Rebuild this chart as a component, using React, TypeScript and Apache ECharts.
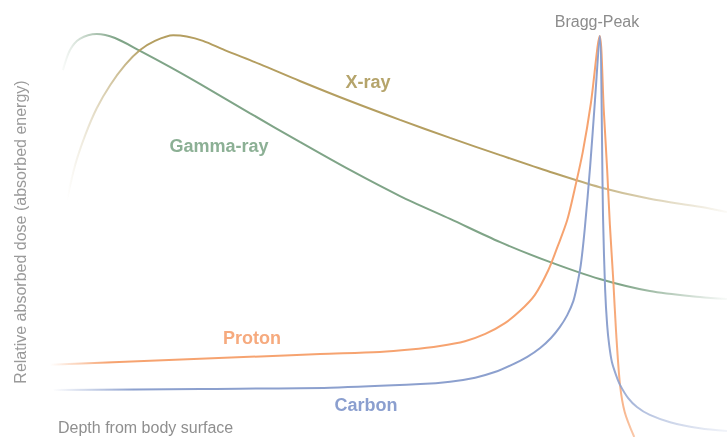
import React, { useEffect, useRef } from "react";
import * as echarts from "echarts";

// Depth (0-100, relative) and relative dose (0-105)
const gammaDepth = [1.9, 2.95, 4.4, 6.9, 9.6, 13.3, 17.7, 22.2, 29.5, 36.9, 44.3, 51.7, 59.1, 66.5, 73.9, 81.2, 88.6, 96.0, 100];
const gammaDose = [91.5, 96.5, 99.3, 100.5, 99.5, 96.3, 92.3, 88.0, 80.8, 73.6, 66.6, 60.1, 54.4, 48.6, 43.6, 39.4, 36.4, 34.9, 34.4];

const xrayDepth = [2.5, 3.7, 5.2, 6.9, 8.9, 11.1, 13.3, 15.5, 18.2, 20.2, 22.6, 25.8, 31.0, 36.9, 44.3, 51.7, 59.1, 66.5, 73.9, 81.2, 88.6, 96.0, 100];
const xrayDose = [59.1, 67.8, 75.3, 82.0, 87.8, 92.8, 96.5, 98.8, 100.2, 99.9, 98.8, 96.5, 93.0, 88.8, 83.8, 79.1, 74.6, 70.3, 66.1, 62.3, 59.4, 57.4, 56.1];

const protonDepth = [0, 14.8, 29.5, 39.9, 48.7, 53.2, 57.6, 61.3, 64.3, 67.2, 69.4, 71.6, 73.6, 75.0, 76.4, 77.5, 78.7, 79.9, 81.2, 81.8, 82.3, 82.7, 83.2, 83.6, 84.2, 84.9, 86.3];
const protonDose = [18.0, 19.0, 20.0, 20.7, 21.2, 21.8, 22.7, 23.9, 25.7, 28.4, 31.4, 35.4, 41.6, 47.6, 54.1, 61.8, 71.1, 83.3, 100, 81.5, 66.6, 52.9, 39.2, 26.7, 13.0, 6.2, 0];

const carbonDepth = [0.4, 22.2, 41.4, 54.7, 59.1, 62.8, 65.7, 68.2, 70.5, 72.4, 74.0, 75.3, 76.4, 77.3, 77.8, 78.4, 79.0, 79.8, 80.5, 81.2, 81.7, 82.0, 82.3, 82.6, 83.0, 83.6, 84.2, 85.4, 86.7, 88.6, 91.6, 96.0, 100];
const carbonDose = [11.7, 12.0, 12.3, 13.2, 13.8, 14.8, 16.2, 18.0, 20.0, 22.2, 24.7, 27.4, 30.4, 33.9, 37.4, 42.9, 52.1, 67.8, 84.0, 100, 54.1, 36.7, 27.9, 22.9, 18.7, 15.5, 13.0, 9.7, 7.5, 5.5, 3.7, 2.2, 1.5];

const seriesNames = ["Gamma-ray", "X-ray", "Proton", "Carbon"];
const peakLabel = "Bragg-Peak";
const xName = "Depth from body surface";
const yName = "Relative absorbed dose (absorbed energy)";

const FONT = "'Liberation Sans', Arial, Helvetica, sans-serif";

function pairs(xs: number[], ys: number[]) {
  return xs.map((x, i) => [x, ys[i]]);
}

function grad(rgb: string, stops: [number, number][]) {
  return new echarts.graphic.LinearGradient(
    0,
    0,
    1,
    0,
    stops.map(([o, a]) => ({ offset: o, color: `rgba(${rgb},${a})` }))
  );
}

export default function App() {
  const ref = useRef<HTMLDivElement>(null);
  useEffect(() => {
    if (!ref.current) return;
    const chart = echarts.init(ref.current, undefined, { renderer: "svg" });
    const green = "127,164,135";
    const tan = "180,158,96";
    const orange = "246,163,112";
    const blue = "140,160,206";
    const line = (name: string, data: number[][], color: any, z: number) => ({
      type: "line",
      name,
      data,
      smooth: 0.3,
      showSymbol: false,
      symbol: "none",
      z,
      lineStyle: { width: 2, color },
    });
    chart.setOption({
      animation: false,
      grid: { left: 50, right: 0, top: 16, bottom: 0 },
      xAxis: { type: "value", min: 0, max: 100, show: false },
      yAxis: { type: "value", min: 0, max: 105, show: false },
      series: [
        line(seriesNames[0], pairs(gammaDepth, gammaDose), grad(green, [[0, 0.05], [0.08, 1], [0.84, 1], [1, 0.05]]), 2),
        line(seriesNames[1], pairs(xrayDepth, xrayDose), grad(tan, [[0, 0], [0.12, 1], [0.74, 1], [1, 0.05]]), 3),
        line(seriesNames[2], pairs(protonDepth, protonDose), grad(orange, [[0, 0], [0.1, 1], [0.96, 1], [1, 0.6]]), 4),
        line(seriesNames[3], pairs(carbonDepth, carbonDose), grad(blue, [[0, 0], [0.12, 1], [0.82, 1], [0.9, 0.5], [1, 0.12]]), 5),
      ],
      graphic: [
        { type: "text", x: 368, y: 82, style: { text: seriesNames[1], fill: "rgb(181,164,107)", font: `bold 18px ${FONT}`, textAlign: "center", textVerticalAlign: "middle" } },
        { type: "text", x: 219, y: 146, style: { text: seriesNames[0], fill: "rgb(140,176,149)", font: `bold 18px ${FONT}`, textAlign: "center", textVerticalAlign: "middle" } },
        { type: "text", x: 252, y: 338, style: { text: seriesNames[2], fill: "rgb(246,170,126)", font: `bold 18px ${FONT}`, textAlign: "center", textVerticalAlign: "middle" } },
        { type: "text", x: 366, y: 405, style: { text: seriesNames[3], fill: "rgb(139,159,207)", font: `bold 18px ${FONT}`, textAlign: "center", textVerticalAlign: "middle" } },
        { type: "text", x: 597, y: 21, style: { text: peakLabel, fill: "#8c8c8c", font: `16px ${FONT}`, textAlign: "center", textVerticalAlign: "middle" } },
        { type: "text", x: 58, y: 427, style: { text: xName, fill: "#8f8f8f", font: `16px ${FONT}`, textAlign: "left", textVerticalAlign: "middle" } },
        { type: "text", x: 20, y: 232, rotation: Math.PI / 2, style: { text: yName, fill: "#9a9a9a", font: `16px ${FONT}`, textAlign: "center", textVerticalAlign: "middle" } },
      ],
    });
    return () => chart.dispose();
  }, []);
  return <div ref={ref} style={{ position: "fixed", left: 0, top: 0, width: 727, height: 437 }} />;
}
